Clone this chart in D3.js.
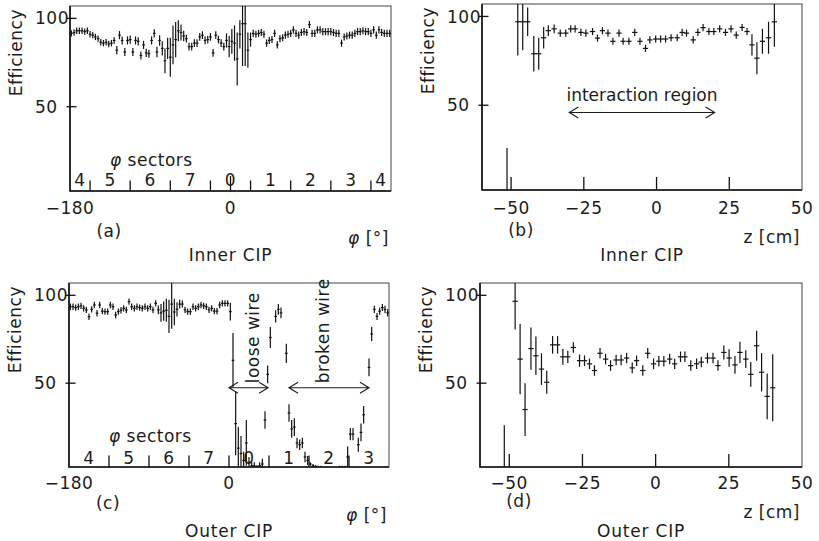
<!DOCTYPE html>
<html>
<head>
<meta charset="utf-8">
<script src="https://cdn.jsdelivr.net/npm/d3@7"></script>
<style>
  html, body { margin: 0; padding: 0; background: #fff; overflow: hidden; }
  svg { display: block; }
  svg text { font-family: "DejaVu Sans", sans-serif; font-size: 17px; fill: #1c1c1c; letter-spacing: 0.5px; }
</style>
</head>
<body>
<div id="chart"></div>
<script>
// phi bins, 3 degrees wide
const phiBins = d3.range(-178.5, 180, 3);

const innerPhiEff = [
  91.5, 92, 93, 93, 93, 92.5, 93, 91, 90.5, 89.5,
  88.5, 86.5, 86, 86.5, 85.5, 86, 87.5, 82, 90.5, 87.5,
  81, 87.5, 88, 81, 87.5, 87, 79, 85, 80.5, 80,
  87.5, 91.5, 81, 87.5, 83, 76, 83, 78, 85, 88,
  93, 92, 90, 88.5, 84, 84, 86, 86, 89.5, 90.5,
  87.5, 88, 89.5, 80.5, 90.5, 88, 86, 84, 87.5, 84,
  87, 86, 77, 91, 97, 97, 82, 88, 91.5, 91,
  91.5, 92, 91, 86, 87.5, 88, 91.5, 85, 88.5, 89,
  90.5, 91, 91.5, 93.5, 91.5, 90.5, 92, 92.5, 92, 96.5,
  91.5, 91.5, 93.5, 93.5, 92.5, 92.5, 92.5, 92.5, 92, 91.5,
  91.5, 86, 89.5, 90, 90.5, 90.5, 91.5, 92.5, 92.5, 93,
  92.5, 92.5, 91.5, 93.5, 90.5, 93.5, 92, 91.5, 91.5, 91.5
];
const innerPhiErr = [
  1.8, 1.8, 1.8, 1.8, 1.8, 1.8, 1.8, 1.8, 1.8, 1.8,
  1.8, 1.8, 1.8, 1.8, 1.8, 1.8, 1.8, 2.3, 2.3, 2.3,
  2.3, 2.3, 2.3, 2.3, 2.3, 2.3, 2.3, 2.3, 2.3, 2.3,
  2.3, 2.3, 3, 3, 4, 7, 6, 11, 11, 10,
  6, 4.5, 3, 2.2, 2.2, 2.2, 2.2, 2.2, 2.2, 2.2,
  2.2, 2.2, 2.2, 2.2, 2.2, 2.2, 2.2, 2.2, 4, 6,
  7, 10, 15, 8, 24, 24, 10, 4, 2, 2,
  2, 2, 2, 2, 2, 2, 2, 2, 2, 2,
  2, 2, 2, 2, 2, 2, 2, 2, 2, 2,
  2, 2, 2, 2, 2, 2, 2, 2, 2, 2,
  2, 2, 2, 2, 2, 2, 2, 2, 2, 2,
  2, 2, 2, 2, 2, 2, 2, 2, 2, 2
];

const outerPhiEff = [
  93.5, 93.5, 93, 93.5, 94, 92.6, 91.7, 87.8, 92, 94.5,
  89.8, 94.5, 91, 90.7, 90.7, 94.5, 93.5, 88.8, 90.7, 91.5,
  92.6, 91.7, 96.4, 93.5, 92.6, 93.5, 93, 92.6, 93.5, 92.6,
  93.5, 91.7, 95.4, 91.7, 90, 91, 91.5, 88, 95, 90.5,
  92, 95, 95, 91.7, 90.7, 90.7, 93.5, 92.6, 93.5, 94.5,
  94, 93.5, 91.7, 92.6, 91, 91, 94.5, 95.4, 95.4, 95.4,
  90.7, 63, 27, 13, 10, 6, 16, 5, 3, 3,
  2, 3, 4, 29, 55, 76, null, 88, 92, 90,
  null, 67, 33, 24, 25, 16, 15, 16, 8, 6,
  4, 3, 2.5, 2, 2, 1.5, 1.5, 1.5, 1.5, 1.5,
  1.5, 2, 2, 2, 8, 21, 21, null, 15, 22,
  32, null, 59, 78, 92, 88, 91, 93, 92, 90
];
const outerPhiErr = [
  1.8, 1.8, 1.8, 1.8, 1.8, 1.8, 1.8, 1.8, 1.8, 1.8,
  1.8, 1.8, 1.8, 1.8, 1.8, 1.8, 1.8, 1.8, 1.8, 1.8,
  1.8, 1.8, 1.8, 1.8, 1.8, 1.8, 1.8, 1.8, 1.8, 1.8,
  1.8, 1.8, 1.8, 2.5, 5, 5.5, 6.5, 9.5, 14, 7.5,
  4, 2.5, 2, 1.8, 1.8, 1.8, 1.8, 1.8, 1.8, 1.8,
  1.8, 1.8, 1.8, 1.8, 1.8, 1.8, 1.8, 1.8, 1.8, 1.8,
  5, 15.5, 18, 12, 10, 5, 13, 3, 2, 2,
  1.5, 2, 3, 5, 5, 6, 0, 3.5, 3, 3,
  0, 5.5, 5, 5, 5, 3, 3, 3, 3, 2.5,
  1, 1, 1, 1, 1, 0.8, 0.8, 0.8, 0.8, 0.8,
  0.8, 1, 1, 1, 6, 3.5, 3.5, 0, 4, 5,
  5, 0, 5, 4, 2, 2, 2, 2, 2, 2
];

// z bins (cm)
const innerZ = [
  -51.4, -47.7, -46, -44.3, -42.2, -40.5, -38.8, -37.2, -35.2, -33.1,
  -31.2, -29.5, -28, -26, -24.3, -22, -20.3, -18.6, -16.7, -15,
  -12.9, -11.5, -9.5, -7.5, -5.7, -3.8, -2.3, -0.3, 1.4, 3.1,
  5, 7.1, 8.8, 10.3, 12.6, 14.2, 16, 18, 19.7, 21.7,
  23.7, 25.6, 27.4, 29.4, 31.1, 32.8, 34.5, 36.4, 38.5, 40.5
];
const innerZEff = [
  1, 97, 97, 97, 79, 79, 88, 92, 93, 90.6,
  90.6, 93, 93, 91, 90.6, 91.5, 87.8, 92, 90.6, 86,
  90.6, 86, 86, 91, 86, 82, 86.8, 87.3, 87.3, 87.3,
  88, 88, 91, 90.6, 86.8, 91, 93.7, 91.5, 91.5, 93,
  91, 93, 89.5, 93.8, 91.5, 84, 76.5, 86, 88, 97
];
const innerZErr = [
  25, 19, 16, 8, 10, 9, 6, 3, 2.5, 2,
  2, 2, 2, 2, 2, 2, 2, 2, 2, 2,
  2, 2, 2, 2, 2, 2, 2, 2, 2, 2,
  2, 2, 2, 2, 2, 2, 2, 2, 2, 2,
  2, 2, 2, 2, 2, 6, 9, 7, 9, 14
];

const outerZ = [
  -51.7, -48, -46.3, -44.6, -42.6, -40.9, -39, -37.2, -35.2, -33.5,
  -31.7, -30, -28.1, -26, -24.3, -22.6, -20.9, -19, -17.1, -15.4,
  -13.5, -11.8, -9.9, -8, -6.5, -4.4, -2.7, -0.7, 1.1, 2.8,
  4.8, 6.5, 8.5, 10, 12, 14, 15.6, 17.7, 19.6, 21.3,
  23.3, 25.1, 27.1, 28.8, 30.8, 32.5, 34.5, 36.2, 38.1, 40
];
const outerZEff = [
  1, 96.6, 63.7, 35, 69.7, 65.6, 58, 50.5, 71.8, 71.8,
  65, 65, 70.3, 62.8, 62.8, 61, 57.2, 67, 63.7, 60,
  63.2, 63.2, 64.3, 58.7, 62.8, 57.2, 67, 61, 62.5, 62.5,
  63.7, 61, 65, 65, 60, 61, 62, 64.3, 64.3, 60,
  67.5, 64.3, 60.4, 67.5, 63.7, 55, 71.3, 56.2, 42.5, 47.4
];
const outerZErr = [
  25, 16, 20, 15, 12, 11, 9, 6.5, 5, 5,
  4.5, 3.5, 3, 3.5, 3, 3, 3, 3, 3, 3,
  3, 3, 3, 3, 3, 3, 3, 3, 3, 3,
  3, 3, 3, 3, 3, 3, 3, 3, 3, 3,
  4, 5, 5, 6, 5, 7, 8.5, 11, 13, 19
];

const effTicks = [50, 100];
const phiTicks = [-180, 0];
const zTicks = [-50, -25, 0, 25, 50];

const innerSectorEdges = [-157.5, -112.5, -67.5, -22.5, 22.5, 67.5, 112.5, 157.5];
const innerSectorNames = ['4', '5', '6', '7', '0', '1', '2', '3', '4'];
const innerSectorCentres = [-168.75, -135, -90, -45, 0, 45, 90, 135, 168.75];
const outerSectorEdges = [-135, -90, -45, 0, 45, 90, 135];
const outerSectorNames = ['4', '5', '6', '7', '0', '1', '2', '3'];
const outerSectorCentres = [-157.5, -112.5, -67.5, -22.5, 22.5, 67.5, 112.5, 157.5];

const yDomain = [2.3, 107];
const fmt = d3.format('d');

const svg = d3.select('#chart').append('svg')
  .attr('width', 819)
  .attr('height', 541);

function chevrons(g, x1, x2, yy) {
  const s = 9, h = 5.5;
  g.append('path')
    .attr('d', `M${x1},${yy}H${x2}M${x1 + s},${yy - h}L${x1},${yy}L${x1 + s},${yy + h}M${x2 - s},${yy - h}L${x2},${yy}L${x2 - s},${yy + h}`)
    .attr('fill', 'none')
    .attr('stroke', '#1c1c1c')
    .attr('stroke-width', 1.1);
}

function drawPanel(c) {
  const g = svg.append('g');
  const x = d3.scaleLinear().domain(c.xDomain).range([c.left, c.right]);
  const y = d3.scaleLinear().domain(yDomain).range([c.bottom, c.top]);

  g.append('clipPath').attr('id', 'clip-' + c.letter)
    .append('rect')
    .attr('x', c.left).attr('y', c.top)
    .attr('width', c.right - c.left).attr('height', c.bottom - c.top);

  // frame
  g.append('rect')
    .attr('x', c.left).attr('y', c.top)
    .attr('width', c.right - c.left).attr('height', c.bottom - c.top)
    .attr('fill', 'none').attr('stroke', '#444').attr('stroke-width', 1);
  g.append('path')
    .attr('d', `M${c.left},${c.top}V${c.bottom}H${c.right}`)
    .attr('fill', 'none').attr('stroke', '#111').attr('stroke-width', 1.6);

  // error bars
  const pts = c.xs.map((v, i) => ({ x: v, y: c.ys[i], e: c.es[i] }))
    .filter(d => d.y !== null);
  const dg = g.append('g')
    .attr('clip-path', `url(#clip-${c.letter})`)
    .attr('stroke', '#111')
    .attr('stroke-width', 1.2);
  dg.selectAll('line.ey').data(pts.filter(d => d.e > 0)).join('line')
    .attr('class', 'ey')
    .attr('x1', d => x(d.x)).attr('x2', d => x(d.x))
    .attr('y1', d => y(d.y - d.e)).attr('y2', d => y(d.y + d.e));
  dg.selectAll('line.ex').data(pts).join('line')
    .attr('class', 'ex')
    .attr('x1', d => x(d.x - c.xHalf)).attr('x2', d => x(d.x + c.xHalf))
    .attr('y1', d => y(d.y)).attr('y2', d => y(d.y));

  // y ticks cross the frame
  g.selectAll('line.ytick').data(effTicks).join('line')
    .attr('class', 'ytick')
    .attr('x1', c.left - 3.5).attr('x2', c.left + 6.5)
    .attr('y1', d => y(d)).attr('y2', d => y(d))
    .attr('stroke', '#111').attr('stroke-width', 1.3);
  g.selectAll('text.ylab').data(effTicks).join('text')
    .attr('class', 'ylab')
    .attr('x', c.left - 35)
    .attr('y', d => y(d))
    .attr('dy', '0.36em')
    .text(fmt);

  // x ticks, inward from the bottom
  g.selectAll('line.xtick').data(c.tickMarks).join('line')
    .attr('class', 'xtick')
    .attr('x1', d => x(d[0])).attr('x2', d => x(d[0]))
    .attr('y1', c.bottom).attr('y2', d => c.bottom - d[1])
    .attr('stroke', '#111').attr('stroke-width', 1.3);
  g.selectAll('text.xlab').data(c.xLabels).join('text')
    .attr('class', 'xlab')
    .attr('x', d => x(d))
    .attr('y', c.tickLabelY)
    .attr('dy', '0.36em')
    .attr('text-anchor', 'middle')
    .text(d => d3.format('d')(d));

  // sector numbering
  if (c.sectorNames) {
    g.selectAll('text.sec').data(c.sectorNames).join('text')
      .attr('class', 'sec')
      .attr('x', (d, i) => x(c.sectorCentres[i]))
      .attr('y', c.bottom - c.secBase)
      .attr('text-anchor', 'middle')
      .text(d => d);
    const t = g.append('text')
      .attr('x', c.left + 40)
      .attr('y', c.bottom - 25);
    t.append('tspan').attr('font-style', 'italic').text('φ');
    t.append('tspan').text(' sectors');
  }

  // y title
  g.append('text')
    .attr('transform', `translate(${c.left - 48},${c.top + 3}) rotate(-90)`)
    .attr('text-anchor', 'end')
    .style('letter-spacing', '0.5px')
    .text('Efficiency');

  // panel letter, x title, caption
  g.append('text')
    .attr('x', c.left + 39).attr('y', c.letterY).attr('dy', '0.36em')
    .attr('text-anchor', 'middle')
    .text(`(${c.letter})`);
  const xt = g.append('text')
    .attr('x', c.right - 2).attr('y', c.unitY).attr('dy', '0.36em')
    .attr('text-anchor', 'end');
  if (c.xTitle === 'phi') {
    xt.append('tspan').attr('font-style', 'italic').text('φ');
    xt.append('tspan').text(' [°]');
  } else {
    xt.text(c.xTitle);
  }
  g.append('text')
    .attr('x', (c.left + c.right) / 2).attr('y', c.captionY).attr('dy', '0.36em')
    .attr('text-anchor', 'middle')
    .style('letter-spacing', '0.8px')
    .text(c.caption);

  return { g, x, y };
}

// (a) inner CIP vs phi
drawPanel({
  letter: 'a', left: 70, right: 391, top: 6, bottom: 191,
  xDomain: [-180, 180], xs: phiBins, ys: innerPhiEff, es: innerPhiErr, xHalf: 1.5,
  tickMarks: innerSectorEdges.map(v => [v, 10.5]).concat([[0, 15]]),
  xLabels: phiTicks,
  sectorNames: innerSectorNames, sectorCentres: innerSectorCentres, secBase: 5,
  tickLabelY: 208, letterY: 231, unitY: 238, captionY: 255,
  xTitle: 'phi', caption: 'Inner CIP'
});

// (b) inner CIP vs z
const pb = drawPanel({
  letter: 'b', left: 482, right: 802, top: 4, bottom: 190,
  xDomain: [-60, 50], xs: innerZ, ys: innerZEff, es: innerZErr, xHalf: 0.9,
  tickMarks: zTicks.slice(0, 4).map(v => [v, 13]),
  xLabels: zTicks,
  tickLabelY: 208, letterY: 230, unitY: 237, captionY: 255,
  xTitle: 'z [cm]', caption: 'Inner CIP'
});
pb.g.append('text')
  .attr('x', pb.x(-5)).attr('y', pb.y(52.3))
  .attr('text-anchor', 'middle')
  .style('letter-spacing', '0px')
  .text('interaction region');
chevrons(pb.g, pb.x(-30), pb.x(20), pb.y(45.9));

// (c) outer CIP vs phi
const pc = drawPanel({
  letter: 'c', left: 69, right: 389, top: 283, bottom: 467,
  xDomain: [-180, 180], xs: phiBins, ys: outerPhiEff, es: outerPhiErr, xHalf: 1.5,
  tickMarks: outerSectorEdges.map(v => [v, 11.5]),
  xLabels: phiTicks,
  sectorNames: outerSectorNames, sectorCentres: outerSectorCentres, secBase: 3,
  tickLabelY: 483, letterY: 503, unitY: 515, captionY: 531,
  xTitle: 'phi', caption: 'Outer CIP'
});
chevrons(pc.g, pc.x(0), pc.x(44), pc.y(47.4));
chevrons(pc.g, pc.x(67.5), pc.x(157.5), pc.y(47.4));
pc.g.append('text')
  .attr('transform', `translate(${pc.x(26.4)},${pc.y(75.8)}) rotate(-90)`)
  .attr('text-anchor', 'middle')
  .attr('dy', '0.36em')
  .text('loose wire');
pc.g.append('text')
  .attr('transform', `translate(${pc.x(106)},${pc.y(79.8)}) rotate(-90)`)
  .attr('text-anchor', 'middle')
  .attr('dy', '0.36em')
  .text('broken wire');

// (d) outer CIP vs z
drawPanel({
  letter: 'd', left: 480, right: 802, top: 283, bottom: 467,
  xDomain: [-60, 50], xs: outerZ, ys: outerZEff, es: outerZErr, xHalf: 0.9,
  tickMarks: zTicks.slice(0, 4).map(v => [v, 13]),
  xLabels: zTicks,
  tickLabelY: 483, letterY: 501, unitY: 512, captionY: 531,
  xTitle: 'z [cm]', caption: 'Outer CIP'
});
</script>
</body>
</html>
